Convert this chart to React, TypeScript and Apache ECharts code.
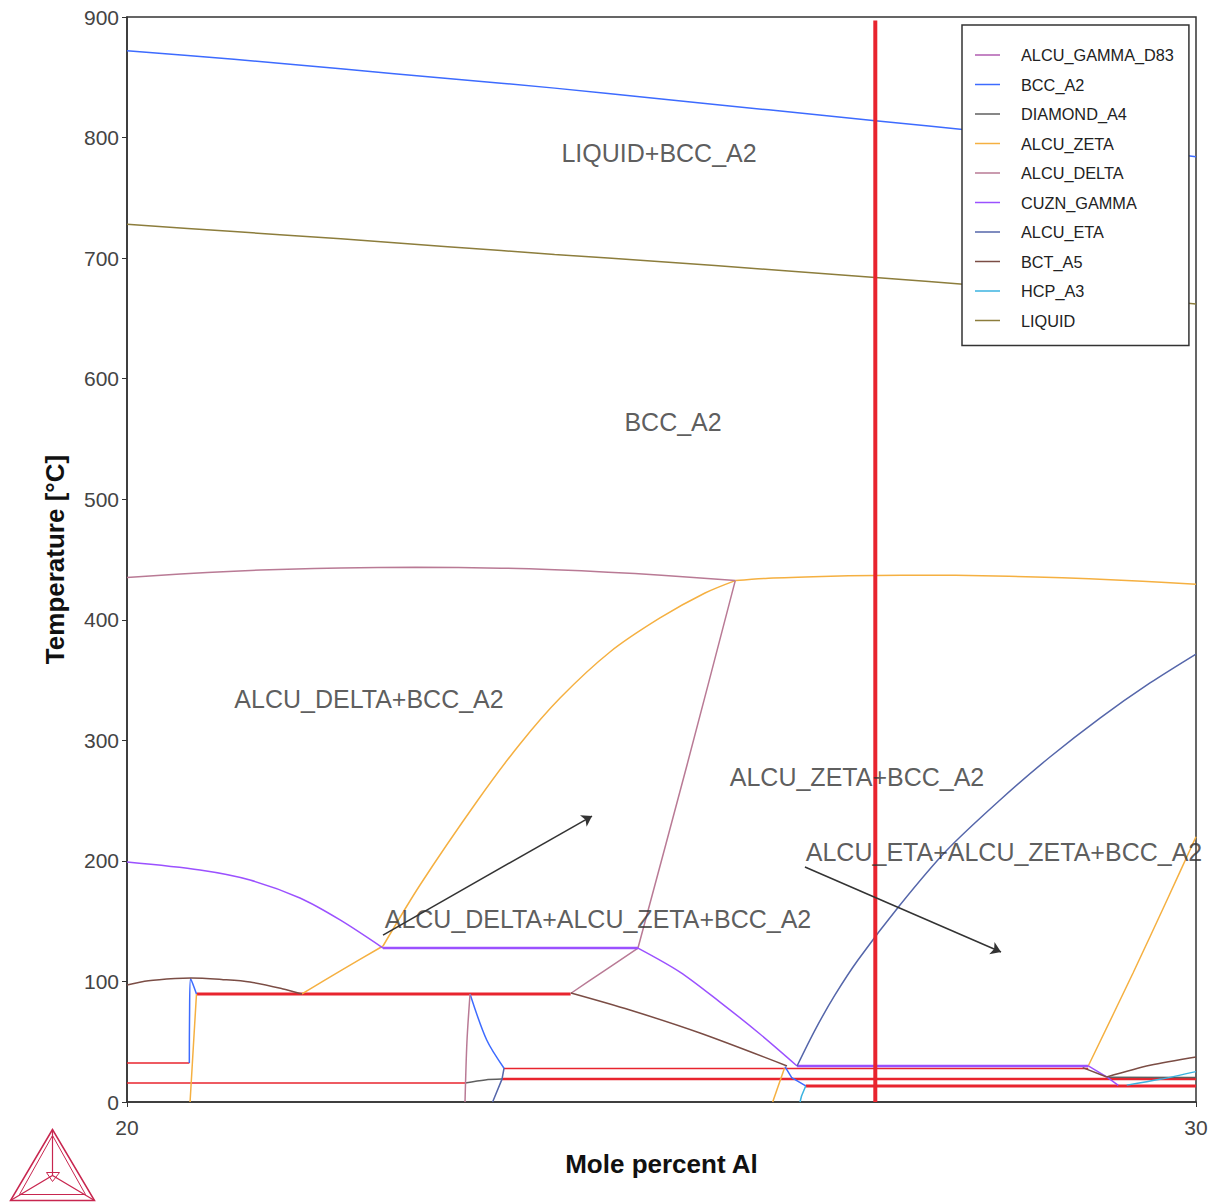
import React, { useEffect, useRef } from "react";
import * as echarts from "echarts";

const FONT = "'Liberation Sans', Arial, sans-serif";

// Axis settings
const xRange = [20, 30];
const yRange = [0, 900];
const yStep = 100;

// Phase names (legend order)
const phases = [
  "ALCU_GAMMA_D83",
  "BCC_A2",
  "DIAMOND_A4",
  "ALCU_ZETA",
  "ALCU_DELTA",
  "CUZN_GAMMA",
  "ALCU_ETA",
  "BCT_A5",
  "HCP_A3",
  "LIQUID",
];
const phaseColors: Record<string, string> = {
  ALCU_GAMMA_D83: "#b05cb0",
  BCC_A2: "#3d6bff",
  DIAMOND_A4: "#5f5f5f",
  ALCU_ZETA: "#f5b041",
  ALCU_DELTA: "#b97a95",
  CUZN_GAMMA: "#9b51ff",
  ALCU_ETA: "#5566aa",
  BCT_A5: "#7b4d45",
  HCP_A3: "#3bb3e0",
  LIQUID: "#8c7d3c",
};

// Boundary lines [mole % Al, T °C]
const bccLiquidus = [[20, 872], [21, 865], [22, 857], [23, 849], [24, 841], [25, 832], [26, 823], [27, 814], [28, 805], [29, 795], [30, 784]];
const liquidSolidus = [[20, 728], [21, 722], [22, 716], [23, 709.5], [24, 703], [25, 697], [26, 690.5], [27, 684], [28, 677], [29, 670], [30, 662]];
const deltaTop = [[20, 435], [20.5, 438], [21, 440.3], [21.5, 442], [22, 443], [22.7, 443.5], [23.5, 442.8], [24, 441.5], [24.5, 439.5], [25, 437], [25.69, 432.5]];
const zetaTop = [[25.69, 432.5], [26, 434.5], [26.5, 436], [27, 436.8], [27.5, 437], [28, 436.6], [28.5, 435.5], [29, 434], [29.5, 432], [30, 429.5]];
const deltaRight = [[25.69, 432.5], [25.24, 280], [24.78, 127.7]];
const deltaLow = [[24.78, 127.7], [24.45, 108], [24.15, 90]];
const zetaLeft = [[22.395, 129.4], [22.741, 180], [23.283, 250.5], [23.676, 297], [24.051, 335.1], [24.518, 373.3], [24.986, 401.5], [25.407, 422.2], [25.69, 432.5]];
const zetaLow = [[22.395, 129.4], [22.0, 109], [21.637, 89.6]];
const zetaVert = [[20.65, 89.6], [20.62, 45], [20.59, 0]];
const bccLoop = [[20.583, 32.3], [20.585, 70], [20.595, 102.5], [20.65, 89.6]];
const bctLeft = [[20, 97], [20.2, 100.5], [20.45, 102.5], [20.6, 102.9], [20.9, 101.5], [21.15, 99.5], [21.45, 94], [21.637, 89.6]];
const cuznLeft = [[20, 199], [20.683, 192.4], [21.151, 184.1], [21.618, 169.2], [21.993, 151], [22.395, 127.7]];
const cuznFlat = [[22.395, 127.7], [24.78, 127.7]];
const cuznMid = [[24.78, 127.7], [25.173, 107.8], [25.547, 82.9], [25.921, 56.4], [26.268, 29.9]];
const cuznFlat2 = [[26.268, 29.9], [28.992, 29.9]];
const cuznRight = [[28.992, 29.9], [29.165, 20.8], [29.273, 13.8]];
const bctMid = [[24.153, 90.4], [24.705, 76.3], [25.36, 57.2], [26.174, 29.9]];
const bctRight1 = [[28.94, 28.5], [29.165, 20.7]];
const bctRight2 = [[29.165, 20.7], [29.57, 30.4], [30, 37.3]];
const diamondLeft = [[23.162, 15.8], [23.35, 18.3], [23.508, 19]];
const diamondRight = [[29.165, 20.5], [30, 20.3]];
const deltaVert = [[23.209, 89.6], [23.18, 50], [23.162, 0]];
const bccMid = [[23.209, 89.6], [23.365, 51.4], [23.527, 28]];
const etaSmall = [[23.527, 28], [23.508, 19], [23.42, 0]];
const bccRightSmall = [[26.155, 29.3], [26.218, 20.2], [26.349, 13.3]];
const hcpLeft = [[26.349, 13.3], [26.31, 5], [26.296, 0]];
const hcpRight = [[29.352, 14], [29.663, 18.8], [30, 25.2]];
const zetaSmall = [[26.15, 28], [26.04, 0]];
const etaBig = [[26.268, 29.9], [26.436, 59.7], [26.623, 88.8], [26.838, 117.8], [27.231, 163.4], [27.671, 209], [28.167, 250.5], [28.634, 286.2], [29.102, 318.5], [29.57, 347.6], [30, 371.6]];
const zetaRight = [[28.992, 29.9], [29.411, 107], [29.729, 167.6], [30, 220]];

// Invariant (tie) lines, red
const tie90 = [[20.65, 89.6], [24.15, 89.6]];
const tie32 = [[20, 32.3], [20.583, 32.3]];
const tie16 = [[20, 15.8], [23.162, 15.8]];
const tie28 = [[23.527, 27.8], [28.992, 27.8]];
const tie19 = [[23.508, 19], [30, 19]];
const tie13 = [[26.349, 13.3], [30, 13.3]];
// Vertical section marker
const marker = [[27, 0], [27, 897]];

// Region labels [x, T]
const regionLabels = [
  { name: "LIQUID+BCC_A2", value: [24.977, 787] },
  { name: "BCC_A2", value: [25.108, 564] },
  { name: "ALCU_DELTA+BCC_A2", value: [22.264, 334] },
  { name: "ALCU_ZETA+BCC_A2", value: [26.829, 269.6] },
  { name: "ALCU_ETA+ALCU_ZETA+BCC_A2", value: [28.204, 207.4] },
  { name: "ALCU_DELTA+ALCU_ZETA+BCC_A2", value: [24.406, 151.8] },
];
// Arrows [from, to]
const arrows = [
  [[22.395, 138.5], [24.35, 237.2]],
  [[26.342, 194.9], [28.176, 124.4]],
];

function phaseLine(name: string, data: number[][], width = 1.5, smooth: number | boolean = false) {
  return {
    type: "line",
    name,
    data,
    symbol: "none",
    showSymbol: false,
    silent: true,
    smooth,
    z: 3,
    lineStyle: { color: phaseColors[name], width },
    itemStyle: { color: phaseColors[name] },
  };
}
function redLine(data: number[][], width: number) {
  return {
    type: "line",
    name: "tie",
    data,
    symbol: "none",
    silent: true,
    z: 2,
    lineStyle: { color: "#e8242e", width },
    itemStyle: { color: "#e8242e" },
  };
}

export default function App() {
  const ref = useRef<HTMLDivElement>(null);
  useEffect(() => {
    if (!ref.current) return;
    const chart = echarts.init(ref.current, undefined, { renderer: "svg" });
    const S = 0.3;
    const series: any[] = [
      { type: "line", name: "ALCU_GAMMA_D83", data: [], symbol: "none", itemStyle: { color: phaseColors.ALCU_GAMMA_D83 }, lineStyle: { color: phaseColors.ALCU_GAMMA_D83 } },
      phaseLine("BCC_A2", bccLiquidus, 1.5, S),
      phaseLine("BCC_A2", bccLoop, 1.5, S),
      phaseLine("BCC_A2", bccMid, 1.5, S),
      phaseLine("BCC_A2", bccRightSmall),
      phaseLine("DIAMOND_A4", diamondLeft, 1.5, S),
      phaseLine("DIAMOND_A4", diamondRight),
      phaseLine("ALCU_ZETA", zetaTop, 1.5, S),
      phaseLine("ALCU_ZETA", zetaLeft, 1.5, S),
      phaseLine("ALCU_ZETA", zetaLow, 1.5, S),
      phaseLine("ALCU_ZETA", zetaVert, 1.5, S),
      phaseLine("ALCU_ZETA", zetaSmall),
      phaseLine("ALCU_ZETA", zetaRight, 1.5, S),
      phaseLine("ALCU_DELTA", deltaTop, 1.5, S),
      phaseLine("ALCU_DELTA", deltaRight, 1.5, S),
      phaseLine("ALCU_DELTA", deltaLow, 1.5, S),
      phaseLine("ALCU_DELTA", deltaVert, 1.5, S),
      phaseLine("CUZN_GAMMA", cuznLeft, 1.5, S),
      phaseLine("CUZN_GAMMA", cuznFlat, 2.5),
      phaseLine("CUZN_GAMMA", cuznMid, 1.5, S),
      phaseLine("CUZN_GAMMA", cuznFlat2, 2.5),
      phaseLine("CUZN_GAMMA", cuznRight),
      phaseLine("ALCU_ETA", etaSmall),
      phaseLine("ALCU_ETA", etaBig, 1.5, S),
      phaseLine("BCT_A5", bctLeft, 1.5, S),
      phaseLine("BCT_A5", bctMid, 1.5, S),
      phaseLine("BCT_A5", bctRight1),
      phaseLine("BCT_A5", bctRight2, 1.5, S),
      phaseLine("HCP_A3", hcpLeft),
      phaseLine("HCP_A3", hcpRight, 1.5, S),
      phaseLine("LIQUID", liquidSolidus, 1.5, S),
      redLine(tie90, 3),
      redLine(tie32, 1.5),
      redLine(tie16, 1.5),
      redLine(tie28, 1.5),
      redLine(tie19, 2.5),
      redLine(tie13, 3),
      { ...redLine(marker, 4), z: 4 },
      {
        type: "lines",
        coordinateSystem: "cartesian2d",
        silent: true,
        z: 5,
        symbol: ["none", "arrow"],
        symbolSize: 10,
        lineStyle: { color: "#333", width: 1.5, opacity: 1, curveness: 0 },
        data: arrows.map((c) => ({ coords: c })),
      },
      {
        type: "scatter",
        name: "labels",
        silent: true,
        z: 6,
        symbolSize: 0,
        clip: false,
        data: regionLabels,
        label: {
          show: true,
          position: "inside",
          formatter: "{b}",
          fontSize: 25,
          fontFamily: FONT,
          color: "#333",
        },
      },
    ];
    chart.setOption({
      animation: false,
      backgroundColor: "#fff",
      grid: {
        left: 127,
        top: 17,
        right: 18,
        bottom: 101,
        show: true,
        borderColor: "#333",
        borderWidth: 1.5,
        backgroundColor: "transparent",
      },
      legend: {
        orient: "vertical",
        left: 962,
        top: 25,
        padding: [22, 15, 17, 13],
        itemGap: 13.5,
        itemWidth: 25,
        itemHeight: 1.5,
        icon: "rect",
        selectedMode: false,
        backgroundColor: "#fff",
        borderColor: "#333",
        borderWidth: 1.5,
        z: 10,
        textStyle: { fontSize: 16.3, color: "#222", fontFamily: FONT, padding: [0, 0, 0, 16] },
        data: phases,
      },
      xAxis: {
        type: "value",
        min: xRange[0],
        max: xRange[1],
        interval: 10,
        name: "Mole percent Al",
        nameLocation: "middle",
        nameGap: 49,
        nameTextStyle: { fontSize: 26, fontWeight: "bold", color: "#111", fontFamily: FONT },
        axisLine: { show: true, lineStyle: { color: "#333", width: 1.5 } },
        axisTick: { show: true, length: 5, lineStyle: { color: "#333" } },
        axisLabel: { fontSize: 21, color: "#444", margin: 15, fontFamily: FONT },
        splitLine: { show: false },
      },
      yAxis: {
        type: "value",
        min: yRange[0],
        max: yRange[1],
        interval: yStep,
        name: "Temperature [°C]",
        nameLocation: "middle",
        nameGap: 59,
        nameRotate: 90,
        nameTextStyle: { fontSize: 26, fontWeight: "bold", color: "#111", fontFamily: FONT },
        axisLine: { show: true, lineStyle: { color: "#333", width: 1.5 } },
        axisTick: { show: true, length: 5, lineStyle: { color: "#333" } },
        axisLabel: { fontSize: 21, color: "#444", margin: 8, fontFamily: FONT },
        splitLine: { show: false },
      },
      graphic: [
        {
          type: "group",
          left: 8,
          top: 1127,
          children: [
            { type: "polygon", shape: { points: [[42, 0], [0, 71], [84, 71]] }, style: { fill: "none", stroke: "#c8264f", lineWidth: 1.5 } },
            { type: "polygon", shape: { points: [[42, 6], [9, 65], [75, 65]] }, style: { fill: "none", stroke: "#c8264f", lineWidth: 1 } },
            { type: "polyline", shape: { points: [[42, 0], [42, 46]] }, style: { stroke: "#c8264f", lineWidth: 1.2 } },
            { type: "polyline", shape: { points: [[0, 71], [42, 46], [84, 71]] }, style: { fill: "none", stroke: "#c8264f", lineWidth: 1.2 } },
            { type: "polygon", shape: { points: [[36, 43], [49, 43], [42, 52]] }, style: { fill: "none", stroke: "#c8264f", lineWidth: 1 } },
          ],
        },
      ],
      series,
    });
    return () => chart.dispose();
  }, []);
  return (
    <div
      ref={ref}
      style={{ position: "absolute", left: 0, top: 0, width: 1214, height: 1203, background: "#fff" }}
    />
  );
}
